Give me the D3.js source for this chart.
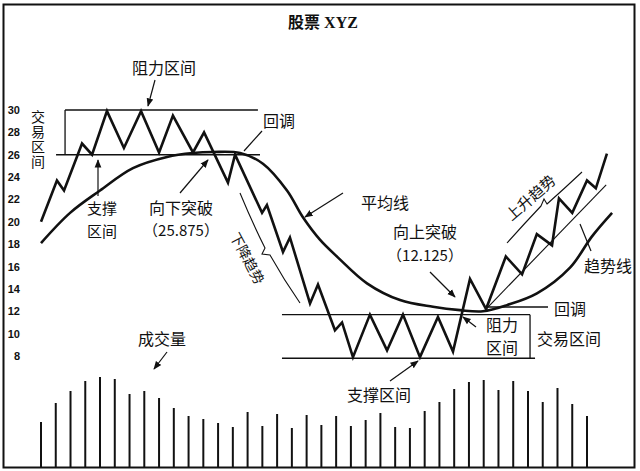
<!DOCTYPE html>
<html><head><meta charset="utf-8">
<script src="https://cdn.jsdelivr.net/npm/d3@7/dist/d3.min.js"></script>
<style>body{margin:0;background:#fff}svg{display:block}</style>
</head><body>
<svg id="chart" width="640" height="471"></svg>
<script>
// ---------- data ----------
const title = "股票 XYZ";
const priceTicks = [8, 10, 12, 14, 16, 18, 20, 22, 24, 26, 28, 30];

// price zigzag (time in trading-day units, price)
const priceDays   = [0, 1.08, 1.56, 2.78, 3.46, 4.47, 5.62, 6.78, 8.0, 8.94, 10.3, 11.05, 12.67, 13.15,
                     14.98, 15.31, 16.4, 16.87, 18.23, 18.77, 19.92, 20.4, 21.14, 22.29, 23.45, 24.53,
                     25.68, 26.9, 27.92, 29.07, 30.16, 31.5, 32.6, 33.6, 34.63, 35.1, 36.0, 37.0, 37.6, 38.35];
const priceValues = [20.0, 23.7, 22.8, 27.0, 26.0, 29.9, 26.6, 29.9, 26.2, 29.5, 26.2, 28.0, 23.5, 26.0,
                     20.8, 21.5, 17.3, 18.6, 12.7, 14.4, 10.3, 11.0, 7.9, 11.7, 8.5, 11.7,
                     7.9, 11.5, 8.4, 14.9, 12.2, 16.9, 15.3, 18.9, 17.9, 22.1, 20.8, 23.7, 23.0, 26.1];

// moving average
const avgDays   = [0, 1.97, 4.0, 6.23, 8.54, 10.3, 11.66, 13.49, 15.04, 16.67, 17.75, 18.9, 20.13,
                   22.09, 24.33, 26.56, 28.39, 29.95, 31.58, 33.61, 35.85, 37.34, 38.7];
const avgValues = [18.1, 20.8, 22.8, 24.8, 25.8, 26.15, 26.24, 26.15, 25.2, 22.8, 20.4, 18.4, 16.8,
                   14.5, 13.0, 12.4, 12.1, 12.0, 12.55, 13.6, 15.9, 18.7, 20.8];

// volume (one bar per day, relative units)
const volumeDays   = [0,1,2,3,4,5,6,7,8,9,10,11,12,13,14,15,16,17,18,19,20,21,22,23,24,25,26,27,28,29,30,31,32,33,34,35,36,37];
const volumeValues = [45, 64, 76, 86, 90, 88, 73, 76, 69, 59, 51, 48, 44, 40, 55, 41, 53, 39, 52,
                      42, 51, 41, 47, 54, 40, 39, 56, 65, 78, 85, 87, 77, 86, 76, 65, 79, 63, 51];

// trading ranges: [resistance, support]
const rangeTop    = [30, 26];
const rangeBottom = [11.7, 7.8];
// trend line (day, price)
const trendDays   = [30.16, 38.3];
const trendValues = [12.2, 23.3];

// ---------- drawing ----------
const svg = d3.select("#chart");
const x = d3.scaleLinear().domain([0, 37]).range([41, 587]);
const y = d3.scaleLinear().domain([8, 30]).range([356, 110]);
const yv = d3.scaleLinear().domain([0, 100]).range([467, 367]);
const ink = "#111";
const cjk = "'Noto Sans CJK SC','Noto Sans',sans-serif";

svg.append("defs").append("marker")
  .attr("id", "ah").attr("viewBox", "0 0 10 10").attr("refX", 9).attr("refY", 5)
  .attr("markerWidth", 7).attr("markerHeight", 7).attr("orient", "auto-start-reverse")
  .append("path").attr("d", "M0,1 L10,5 L0,9 Z").attr("fill", ink);

// frame
svg.append("rect").attr("x", 3.5).attr("y", 4.5).attr("width", 631).attr("height", 463)
  .attr("fill", "none").attr("stroke", ink).attr("stroke-width", 2);

// title
svg.append("text").attr("x", 323).attr("y", 28).attr("text-anchor", "middle")
  .attr("font-family", "'Liberation Serif','Noto Sans CJK SC',serif").attr("font-weight", "bold")
  .attr("font-size", 16).attr("fill", ink).text(title);

// y axis
const ya = svg.append("g").attr("transform", "translate(22,0)")
  .call(d3.axisLeft(y).tickValues(priceTicks).tickSize(0).tickPadding(2));
ya.select(".domain").remove();
ya.selectAll("text").attr("font-family", "'Liberation Sans',Arial,sans-serif")
  .attr("font-weight", "bold").attr("font-size", 11).attr("fill", ink);

// range lines
function hline(v, d0, d1) {
  svg.append("line").attr("x1", x(d0)).attr("x2", x(d1)).attr("y1", y(v)).attr("y2", y(v))
    .attr("stroke", ink).attr("stroke-width", 1.3);
}
hline(rangeTop[0], 1.63, 14.7);
hline(rangeTop[1], 1.02, 14.84);
svg.append("line").attr("x1", x(1.63)).attr("x2", x(1.63)).attr("y1", y(rangeTop[0])).attr("y2", y(rangeTop[1]))
  .attr("stroke", ink).attr("stroke-width", 1.3);
hline(rangeBottom[0], 16.33, 33.14);
hline(rangeBottom[1], 16.33, 33.48);
svg.append("line").attr("x1", x(33.14)).attr("x2", x(33.14)).attr("y1", y(rangeBottom[0])).attr("y2", y(rangeBottom[1]))
  .attr("stroke", ink).attr("stroke-width", 1.3);
hline(12.38, 30.29, 34.36);

// trend line
svg.append("line").attr("x1", x(trendDays[0])).attr("y1", y(trendValues[0]))
  .attr("x2", x(trendDays[1])).attr("y2", y(trendValues[1]))
  .attr("stroke", ink).attr("stroke-width", 1.1);

// moving average
svg.append("path").datum(avgDays.map((d, i) => [d, avgValues[i]]))
  .attr("d", d3.line().x(d => x(d[0])).y(d => y(d[1])).curve(d3.curveCatmullRom.alpha(0.5)))
  .attr("fill", "none").attr("stroke", ink).attr("stroke-width", 2.6);

// price zigzag
svg.append("path").datum(priceDays.map((d, i) => [d, priceValues[i]]))
  .attr("d", d3.line().x(d => x(d[0])).y(d => y(d[1])))
  .attr("fill", "none").attr("stroke", ink).attr("stroke-width", 2.6).attr("stroke-linejoin", "miter");

// volume bars
svg.append("g").selectAll("line").data(volumeValues).join("line")
  .attr("x1", (d, i) => x(volumeDays[i])).attr("x2", (d, i) => x(volumeDays[i]))
  .attr("y1", yv(0)).attr("y2", d => yv(d))
  .attr("stroke", ink).attr("stroke-width", 2);

// annotation lines & arrows
function seg(x1, y1, x2, y2, arrow, w) {
  const l = svg.append("line").attr("x1", x1).attr("y1", y1).attr("x2", x2).attr("y2", y2)
    .attr("stroke", ink).attr("stroke-width", w || 1.2);
  if (arrow) l.attr("marker-end", "url(#ah)");
}
seg(155, 80, 148, 106, true);
seg(98, 196, 98, 160, true);
seg(180, 193, 208, 160, true);
seg(262, 131, 244, 151, false);
seg(343, 193, 305, 217, true);
seg(430, 272, 455, 297, true);
seg(476, 327, 463, 317, true);
seg(390, 381, 418, 361, true);
seg(167, 352, 154, 369, true);
seg(591, 251, 580, 224, false);

// brace-like trend markers
svg.append("path").attr("d", "M240,193 Q252,222 265,248 L262,254 L270,255 Q284,280 300,303")
  .attr("fill", "none").attr("stroke", ink).attr("stroke-width", 1.1);
svg.append("path").attr("d", "M507,243 Q524,224 541,206 L544,199 L547,204 Q565,188 582,172")
  .attr("fill", "none").attr("stroke", ink).attr("stroke-width", 1.1);

// texts
function label(t, cx, cy, size, opts) {
  const e = svg.append("text").attr("x", cx).attr("y", cy).attr("text-anchor", "middle")
    .attr("dominant-baseline", "central").attr("font-family", cjk)
    .attr("font-size", size || 16).attr("fill", ink).text(t);
  if (opts && opts.rot) e.attr("transform", `rotate(${opts.rot},${cx},${cy})`);
  return e;
}
function label2(lines, cx, cy, gap, sizes) {
  const e = svg.append("text").attr("text-anchor", "middle").attr("font-family", cjk)
    .attr("fill", ink);
  lines.forEach((t, i) => {
    e.append("tspan").attr("x", cx).attr("y", cy + i * gap + 6)
      .attr("font-size", (sizes && sizes[i]) || 16).text(t);
  });
  return e;
}
label("阻力区间", 164, 67);
svg.append("text").attr("x", 38).attr("y", 140).attr("text-anchor", "middle")
  .attr("writing-mode", "vertical-rl").style("writing-mode", "vertical-rl")
  .attr("font-family", cjk).attr("font-size", 14).attr("letter-spacing", 1)
  .attr("fill", ink).text("交易区间");
label2(["支撑", "区间"], 102, 208, 23, [15, 15]);
label2(["向下突破", "（25.875）"], 181, 208, 22, [16, 15]);
label("回调", 279, 120);
label("平均线", 385, 202);
label2(["向上突破", "（12.125）"], 425, 232, 23, [16, 15]);
label("回调", 570, 308);
label2(["阻力", "区间"], 502, 325, 23);
label("交易区间", 569, 338);
label("支撑区间", 379, 394);
label("趋势线", 608, 265);
label("成交量", 162, 338);
label("下降趋势", 248, 258, 14, {rot: 62});
label("上升趋势", 530, 197, 15, {rot: -41});
</script>
</body></html>
